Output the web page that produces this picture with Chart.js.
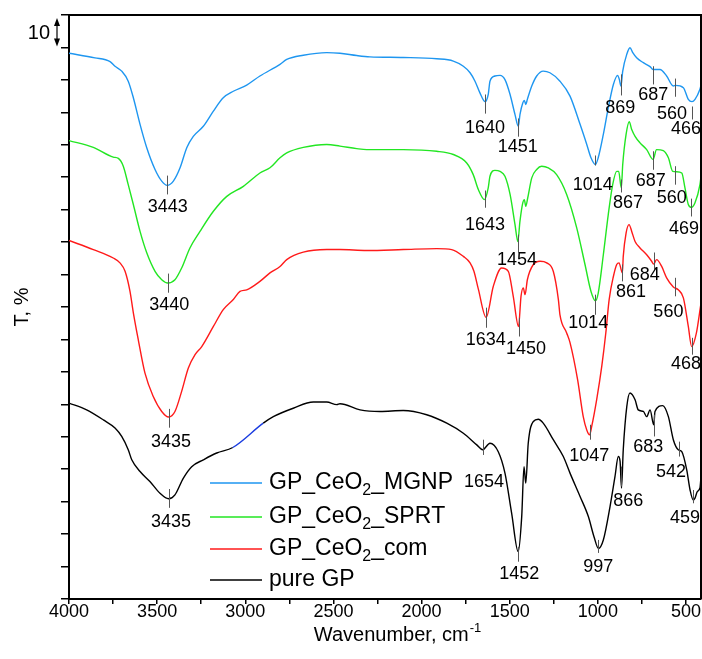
<!DOCTYPE html>
<html>
<head>
<meta charset="utf-8">
<script src="https://cdn.jsdelivr.net/npm/chart.js@4/dist/chart.umd.min.js"></script>
<style>
  html, body { margin: 0; padding: 0; background: #fff; }
  canvas { display: block; }
</style>
</head>
<body>
<canvas id="ftir" width="702" height="659"></canvas>
<script>
// Spectra (wavenumber in cm-1, T in %, curves offset)
const wnMGNP = [4000,3853,3767,3739,3701,3664,3635,3597,3559,3512,3474,3443,3408,3370,3332,3295,3238,3181,3125,3068,2992,2917,2803,2765,2671,2538,2463,2368,2293,2104,1914,1820,1763,1725,1697,1669,1640,1622,1612,1584,1555,1527,1498,1470,1451,1442,1426,1417,1409,1400,1375,1347,1310,1272,1215,1158,1101,1063,1039,1014,998,969,941,912,888,878,869,859,836,818,802,780,742,704,687,648,610,572,560,515,487,466,449,421,415];
const tMGNP = [168.2,166.8,165.6,164.2,162.7,159.6,154.5,146.3,139.1,132.4,128.8,127.5,128.8,132.9,139.1,142.6,145.7,150.4,154.5,156.5,158.4,161.2,164.8,166.3,167.6,168.4,168.2,167.5,167.1,166.9,166.5,165.8,164.2,162.2,159.6,156.0,153.3,155.5,159.6,161.2,161.4,160.1,155.5,149.3,145.7,149.3,152.9,153.7,152.4,154.0,158.1,161.2,162.7,162.2,159.6,155.0,146.3,140.1,136.0,133.9,136.0,143.2,151.4,158.6,161.4,160.1,158.1,162.7,167.9,169.9,168.4,166.8,165.3,164.1,163.2,163.2,161.2,158.1,158.3,157.6,154.0,153.3,154.0,157.1,158.3];

const wnSPRT = [4000,3862,3749,3720,3692,3664,3635,3597,3559,3512,3474,3440,3399,3361,3314,3257,3181,3105,3011,2917,2860,2803,2765,2671,2538,2463,2368,2311,2104,1914,1820,1744,1707,1678,1643,1622,1612,1584,1555,1527,1498,1470,1454,1442,1426,1417,1409,1398,1375,1347,1319,1281,1234,1177,1120,1073,1039,1014,998,969,941,916,893,882,867,859,840,822,808,789,761,723,687,667,629,600,575,553,524,506,487,469,449,421,415];
const tSPRT = [141.3,139.2,136.2,135.8,133.4,127.7,121.6,113.3,106.7,101.0,98.4,97.4,98.4,102.0,108.2,113.3,119.5,124.1,127.2,131.3,132.9,136.0,137.5,139.2,140.1,139.6,138.8,138.5,138.5,138.0,137.0,134.4,130.8,126.2,123.1,126.7,130.3,132.1,131.8,130.3,124.7,115.4,110.2,116.4,122.1,123.1,121.0,123.6,129.8,132.4,133.4,132.9,130.8,124.7,114.4,103.1,94.8,91.9,94.3,106.1,118.5,127.7,131.8,131.8,126.7,133.9,143.2,147.1,144.7,142.6,140.6,138.5,135.5,138.5,138.2,136.0,131.8,131.7,131.3,126.7,121.6,120.7,122.1,127.7,130.3];

const wnCom = [4000,3862,3749,3711,3682,3654,3635,3607,3569,3522,3474,3435,3399,3361,3323,3285,3247,3181,3125,3068,3030,2992,2917,2860,2803,2765,2671,2538,2463,2311,2104,1914,1829,1763,1725,1703,1678,1634,1593,1546,1508,1480,1450,1436,1423,1413,1400,1366,1328,1290,1253,1224,1215,1177,1158,1115,1083,1063,1047,1035,1007,978,955,936,912,893,880,861,856,840,823,808,789,761,723,695,684,667,638,610,572,544,515,487,468,441,415];
const tCom = [110.5,107.7,105.1,103.6,101.0,94.8,88.2,79.9,69.6,62.4,57.8,56.1,57.8,64.0,71.2,75.3,77.8,84.0,89.2,92.3,94.8,95.3,97.9,100.5,102.5,104.6,106.9,107.7,107.7,107.4,107.7,108.0,107.7,105.6,103.6,101.0,95.5,86.8,96.4,102.0,101.0,93.3,84.0,93.3,95.9,93.8,98.4,103.1,104.1,103.6,101.0,92.3,87.6,82.0,79.0,67.6,56.2,52.1,50.6,53.2,61.4,71.7,82.0,92.3,99.4,103.1,103.6,100.5,105.6,112.8,115.4,113.3,110.2,108.2,106.1,104.1,103.2,104.6,102.5,99.0,96.2,95.3,92.8,84.0,77.8,82.0,91.2];

const wnGP = [4000,3900,3805,3739,3701,3664,3644,3597,3541,3484,3435,3399,3352,3304,3238,3162,3071,2898,2841,2728,2614,2538,2481,2463,2349,2236,2104,1971,1857,1763,1687,1654,1612,1565,1527,1489,1452,1432,1419,1409,1395,1366,1338,1310,1253,1196,1158,1101,1054,1022,997,969,931,903,884,874,866,856,836,818,789,771,742,723,704,683,676,632,600,572,544,524,496,477,459,449,436,421,415];
const tGP = [60.4,58.3,55.2,52.7,50.1,46.0,42.9,39.3,36.2,32.6,30.9,32.1,37.2,40.8,42.9,45.0,46.7,54.2,56.2,58.8,60.7,60.7,59.9,60.2,58.3,57.8,58.1,56.8,54.2,51.1,47.5,46.0,48.0,45.4,38.8,26.4,14.6,25.4,40.8,35.7,48.0,54.7,55.4,54.2,49.1,43.9,38.8,31.6,25.4,19.2,15.6,18.2,28.5,37.7,43.9,42.4,34.2,46.0,59.3,63.5,61.4,58.3,57.8,56.2,58.3,53.7,57.8,59.6,56.2,49.1,46.0,45.4,39.8,33.6,30.5,31.1,33.1,34.2,37.7];

const seriesNames = ['GP_CeO2_MGNP', 'GP_CeO2_SPRT', 'GP_CeO2_com', 'pure GP'];
const seriesColors = ['#1e96f0', '#22e622', '#ff1a1a', '#000000'];

// peak marks: [value, tick top T, tick bottom T, label wavenumber, label T]
const peaks = [
  [3443, 130.5, 124.7, 3440, 120.7], [1640, 155.5, 149.6, 1640, 145.2], [1451, 148.1, 142.5, 1455, 139.4],
  [1014, 136.7, 133.6, 1029, 127.7], [869, 161.7, 155.2, 873, 151.4], [687, 164.2, 158.6, 686, 155.2],
  [560, 160.4, 154.8, 580, 149.6], [466, 151.8, 147.8, 500, 144.7],
  [3440, 100.3, 94.4, 3431, 90.7], [1643, 125.9, 120.6, 1640, 115.4], [1454, 112.3, 106.8, 1459, 104.6],
  [1014, 93.8, 87.6, 1054, 85.1], [867, 129.3, 125.3, 829, 121.9], [687, 138.0, 132.3, 700, 128.8],
  [560, 133.4, 127.7, 581, 123.6], [469, 123.4, 117.9, 511, 113.9],
  [3435, 58.6, 52.8, 3421, 48.5], [1634, 89.8, 83.6, 1636, 79.9], [1450, 86.7, 80.9, 1408, 76.9],
  [1047, 53.7, 49.1, 1049, 44.2], [861, 103.1, 97.9, 812, 94.6], [684, 106.8, 101.5, 734, 100.0],
  [560, 99.0, 93.3, 600, 88.6], [468, 80.5, 75.3, 500, 72.5],
  [3435, 33.9, 28.1, 3421, 23.7], [1654, 49.1, 44.4, 1646, 36.0], [1452, 16.1, 11.5, 1446, 7.8],
  [997, 18.2, 14.2, 998, 9.9], [866, 40.8, 34.7, 827, 30.3], [683, 56.8, 50.1, 714, 46.8],
  [542, 48.5, 43.9, 585, 39.0], [459, 33.6, 29.5, 506, 25.1]
];

const FONT = '"Liberation Sans", Arial, sans-serif';

// draws text, turning the "2" after "O" into a subscript
function drawRich(ctx, text, x, y, size) {
  let cx = x;
  for (let i = 0; i < text.length; i++) {
    const ch = text[i];
    const sub = ch === '2' && text[i - 1] === 'O';
    ctx.font = (sub ? Math.round(size * 0.68) : size) + 'px ' + FONT;
    ctx.fillText(ch, cx, sub ? y + size * 0.32 : y);
    cx += ctx.measureText(ch).width;
  }
}

const decorations = {
  id: 'decorations',
  afterDatasetsDraw(chart) {
    const { ctx, chartArea: a, scales: { x, y } } = chart;
    ctx.save();

    // top and right frame
    ctx.strokeStyle = '#000';
    ctx.lineWidth = 2;
    ctx.beginPath();
    ctx.moveTo(a.left, a.top);
    ctx.lineTo(a.right, a.top);
    ctx.lineTo(a.right, a.bottom);
    ctx.stroke();

    // peak ticks and numbers
    ctx.font = '18px ' + FONT;
    ctx.textAlign = 'center';
    ctx.textBaseline = 'middle';
    ctx.fillStyle = '#000';
    ctx.strokeStyle = '#555';
    ctx.lineWidth = 1;
    peaks.forEach(([v, t0, t1, lx, ly]) => {
      const px = Math.round(x.getPixelForValue(v)) + 0.5;
      ctx.beginPath();
      ctx.moveTo(px, y.getPixelForValue(t0));
      ctx.lineTo(px, y.getPixelForValue(t1));
      ctx.stroke();
      ctx.fillText(String(v), x.getPixelForValue(lx), y.getPixelForValue(ly));
    });

    // legend inside the plot
    const rows = [483, 517, 549, 580];
    ctx.textAlign = 'left';
    chart.data.datasets.forEach((ds, i) => {
      ctx.strokeStyle = ds.borderColor;
      ctx.lineWidth = 1.4;
      ctx.beginPath();
      ctx.moveTo(210, rows[i]);
      ctx.lineTo(262, rows[i]);
      ctx.stroke();
      ctx.fillStyle = '#000';
      drawRich(ctx, ds.label, 269, rows[i], 23);
    });

    // scale bar "10"
    const ax = a.left - 12;
    const y0 = y.getPixelForValue(180) + 3;
    const y1 = y.getPixelForValue(170) - 1;
    ctx.strokeStyle = '#000';
    ctx.fillStyle = '#000';
    ctx.lineWidth = 1.2;
    ctx.beginPath();
    ctx.moveTo(ax, y0 + 4);
    ctx.lineTo(ax, y1 - 4);
    ctx.stroke();
    ctx.beginPath();
    ctx.moveTo(ax, y0); ctx.lineTo(ax - 3, y0 + 8); ctx.lineTo(ax + 3, y0 + 8); ctx.closePath();
    ctx.moveTo(ax, y1); ctx.lineTo(ax - 3, y1 - 8); ctx.lineTo(ax + 3, y1 - 8); ctx.closePath();
    ctx.fill();
    ctx.font = '20px ' + FONT;
    ctx.textAlign = 'right';
    ctx.textBaseline = 'middle';
    ctx.fillText('10', ax - 7, (y0 + y1) / 2 + 1);

    // x title with superscript
    ctx.textBaseline = 'alphabetic';
    ctx.textAlign = 'left';
    ctx.font = '20px ' + FONT;
    const main = 'Wavenumber, cm';
    const wMain = ctx.measureText(main).width;
    ctx.font = '13px ' + FONT;
    const wSup = ctx.measureText('-1').width;
    const sx = (a.left + a.right) / 2 + 12 - (wMain + wSup) / 2;
    ctx.font = '20px ' + FONT;
    ctx.fillText(main, sx, 641);
    ctx.font = '13px ' + FONT;
    ctx.fillText('-1', sx + wMain + 1, 632);

    ctx.restore();
  }
};

const makeData = (wn, t) => wn.map((w, i) => ({ x: w, y: t[i] }));
const allWn = [wnMGNP, wnSPRT, wnCom, wnGP];
const allT = [tMGNP, tSPRT, tCom, tGP];

new Chart(document.getElementById('ftir'), {
  type: 'line',
  data: {
    datasets: seriesNames.map((name, i) => ({
      label: name,
      data: makeData(allWn[i], allT[i]),
      borderColor: seriesColors[i],
      borderWidth: 1.4,
      pointRadius: 0,
      fill: false,
      cubicInterpolationMode: 'monotone',
      // a short stretch of the pure GP trace is drawn in blue in the original
      segment: i === 3 ? {
        borderColor: c => (c.p0.parsed.x === 3071 ? '#1a3ce0' : undefined)
      } : undefined
    }))
  },
  options: {
    responsive: false,
    animation: false,
    layout: { padding: { top: 15, right: 1, left: 0, bottom: 0 } },
    plugins: { legend: { display: false }, tooltip: { enabled: false } },
    scales: {
      x: {
        type: 'linear',
        reverse: true,
        min: 415,
        max: 4000,
        afterFit: s => { s.height = 60; },
        afterBuildTicks: s => { s.ticks = s.ticks.filter(t => t.value % 250 === 0); },
        border: { display: true, color: '#000', width: 2 },
        grid: { drawOnChartArea: false, tickLength: 5, color: '#000', lineWidth: 1.5 },
        ticks: {
          stepSize: 250,
          includeBounds: false,
          autoSkip: false,
          maxRotation: 0,
          padding: -3,
          color: '#000',
          font: { family: FONT, size: 18 },
          callback: v => (v % 500 === 0 ? String(v) : '')
        }
      },
      y: {
        min: 0,
        max: 180,
        afterFit: s => { s.width = 69; },
        border: { display: true, color: '#000', width: 2 },
        grid: { drawOnChartArea: false, tickLength: 8, color: '#000', lineWidth: 1.5 },
        ticks: { stepSize: 10, callback: () => '' },
        title: {
          display: true,
          text: 'T, %',
          color: '#000',
          font: { family: FONT, size: 20 },
          padding: { top: 10, bottom: 0 }
        }
      }
    }
  },
  plugins: [decorations]
});
</script>
</body>
</html>
